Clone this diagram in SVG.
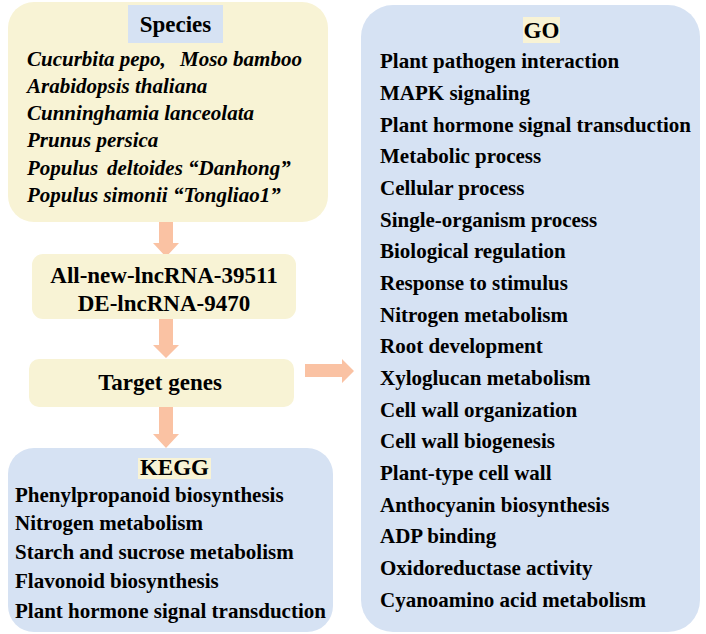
<svg xmlns="http://www.w3.org/2000/svg" width="706" height="634" viewBox="0 0 706 634">
<defs>
<style>
.yel{fill:#f8f3d5}
.blu{fill:#d6e2f3}
.arr{fill:#fac2a3}
text{font-family:"Liberation Serif","Times New Roman",serif;font-weight:bold;fill:#000}
.h{font-size:23px;text-anchor:middle}
.it{font-size:21px;font-style:italic}
.li{font-size:21px}
</style>
</defs>
<rect width="706" height="634" fill="#ffffff"/>
<g id="connectors">
<path class="arr" d="M159,218 H173 V243 H179 L166,257 L153,243 H159 Z"/>
<path class="arr" d="M159,317 H173 V345 H179 L166,358 L153,345 H159 Z"/>
<path class="arr" d="M159,405 H173 V434 H179 L166,448 L153,434 H159 Z"/>
<path class="arr" d="M305,364 H342 V359 L354,371 L342,383 V377 H305 Z"/>
</g>
<g id="species">
<rect class="yel" x="8" y="2" width="320" height="220" rx="26"/>
<rect class="blu" x="128" y="5" width="95" height="38"/>
<text class="h" x="175.5" y="32">Species</text>
<text class="it" x="27" y="66">Cucurbita pepo,<tspan x="180">Moso bamboo</tspan></text>
<text class="it" x="27" y="93">Arabidopsis thaliana</text>
<text class="it" x="27" y="120">Cunninghamia lanceolata</text>
<text class="it" x="27" y="147">Prunus persica</text>
<text class="it" x="27" y="175">Populus<tspan x="107">deltoides “Danhong”</tspan></text>
<text class="it" x="27" y="202">Populus simonii “Tongliao1”</text>
</g>
<g id="lncrna">
<rect class="yel" x="32" y="254" width="264" height="65" rx="11"/>
<text class="h" x="164" y="283">All-new-lncRNA-39511</text>
<text class="h" x="164" y="311">DE-lncRNA-9470</text>
</g>
<g id="target">
<rect class="yel" x="29" y="359" width="265" height="48" rx="10"/>
<text class="h" x="160" y="390">Target genes</text>
</g>
<g id="kegg">
<rect class="blu" x="8" y="448" width="325" height="184" rx="26"/>
<rect class="yel" x="138" y="458" width="73" height="21"/>
<text class="h" x="174.5" y="475">KEGG</text>
<text class="li" x="15" y="502">Phenylpropanoid biosynthesis</text>
<text class="li" x="15" y="530">Nitrogen metabolism</text>
<text class="li" x="15" y="559">Starch and sucrose metabolism</text>
<text class="li" x="15" y="588">Flavonoid biosynthesis</text>
<text class="li" x="15" y="618">Plant hormone signal transduction</text>
</g>
<g id="go">
<rect class="blu" x="361" y="5" width="339" height="627" rx="32"/>
<rect class="yel" x="523" y="17" width="37" height="26"/>
<text class="h" x="541.5" y="38">GO</text>
<text class="li" x="380" y="68">Plant pathogen interaction</text>
<text class="li" x="380" y="100">MAPK signaling</text>
<text class="li" x="380" y="132">Plant hormone signal transduction</text>
<text class="li" x="380" y="163">Metabolic process</text>
<text class="li" x="380" y="195">Cellular process</text>
<text class="li" x="380" y="227">Single-organism process</text>
<text class="li" x="380" y="258">Biological regulation</text>
<text class="li" x="380" y="290">Response to stimulus</text>
<text class="li" x="380" y="322">Nitrogen metabolism</text>
<text class="li" x="380" y="353">Root development</text>
<text class="li" x="380" y="385">Xyloglucan metabolism</text>
<text class="li" x="380" y="417">Cell wall organization</text>
<text class="li" x="380" y="448">Cell wall biogenesis</text>
<text class="li" x="380" y="480">Plant-type cell wall</text>
<text class="li" x="380" y="512">Anthocyanin biosynthesis</text>
<text class="li" x="380" y="543">ADP binding</text>
<text class="li" x="380" y="575">Oxidoreductase activity</text>
<text class="li" x="380" y="607">Cyanoamino acid metabolism</text>
</g>
</svg>
